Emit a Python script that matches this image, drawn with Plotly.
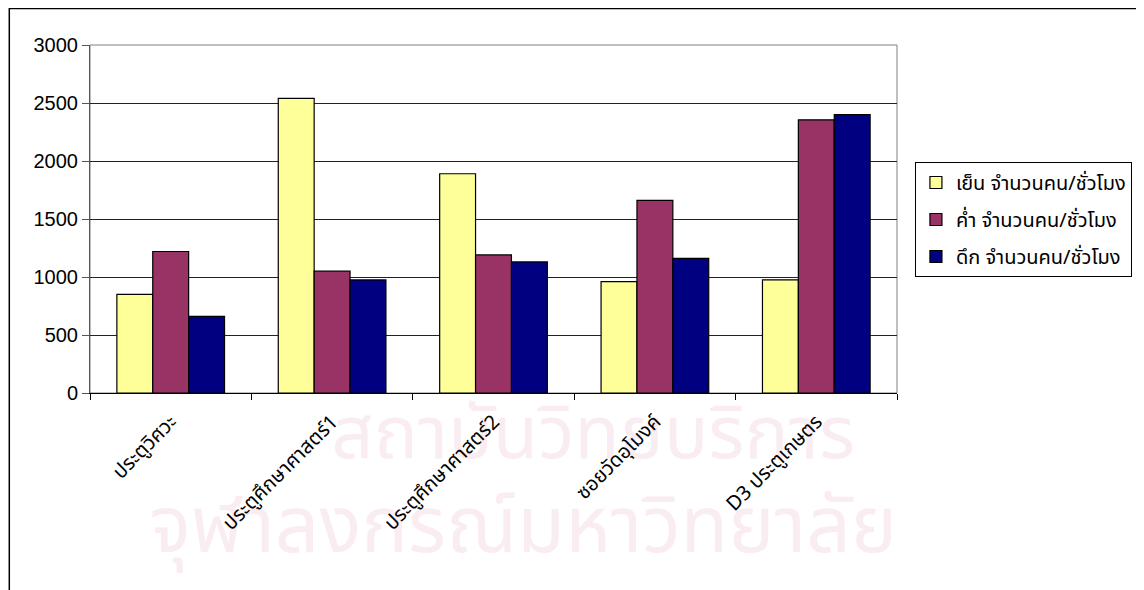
import plotly.graph_objects as go

categories = ["ประตูวิศวะ", "ประตูศึกษาศาสตร์1", "ประตูศึกษาศาสตร์2", "ซอยวัดอุโมงค์", "D3 ประตูเกษตร"]
series_names = ["เย็น จำนวนคน/ชั่วโมง", "ค่ำ จำนวนคน/ชั่วโมง", "ดึก จำนวนคน/ชั่วโมง"]
evening = [850, 2540, 1890, 960, 975]
night = [1220, 1050, 1190, 1660, 2355]
late_night = [660, 975, 1130, 1160, 2400]
colors = ["#FFFF99", "#993366", "#000080"]
y_ticks = [0, 500, 1000, 1500, 2000, 2500, 3000]
watermark_lines = ["สถาบันวิทยบริการ", "จุฬาลงกรณ์มหาวิทยาลัย"]

OFF = 8  # page body margin offset
W, H = 1144 - OFF, 590 - OFF
L, R, T, B = 90 - OFF, 900 - OFF, 45 - OFF, 393 - OFF
pw, ph = R - L, B - T

def px(x):
    return (x - OFF - L) / pw

def py(y):
    return (B - (y - OFF)) / ph

FONT = "Tahoma, 'Noto Sans Thai', 'Loma', 'Garuda', 'Noto Sans', sans-serif"
WM = "#FAEDF1"

fig = go.Figure()
for i, (name, vals, col) in enumerate(zip(series_names, [evening, night, late_night], colors)):
    fig.add_trace(go.Bar(
        x=categories, y=vals, name=name, legendgroup=f"g{i}",
        marker=dict(color=col, line=dict(color="#000000", width=1.2)),
    ))

shapes = [
    dict(type="rect", xref="paper", yref="paper", x0=px(320), x1=px(870), y0=py(480), y1=py(400),
         line=dict(width=0), fillcolor="rgba(0,0,0,0)", layer="below",
         label=dict(text=watermark_lines[0], font=dict(size=74, color=WM, family=FONT),
                    textposition="middle center")),
    dict(type="rect", xref="paper", yref="paper", x0=px(40), x1=px(1010), y0=py(570), y1=py(495),
         line=dict(width=0), fillcolor="rgba(0,0,0,0)", layer="below",
         label=dict(text=watermark_lines[1], font=dict(size=78, color=WM, family=FONT),
                    textposition="middle center")),
    dict(type="rect", xref="paper", yref="paper", x0=0, x1=1, y0=0, y1=1,
         line=dict(color="#808080", width=1), layer="below"),
    dict(type="rect", xref="paper", yref="paper",
         x0=px(9), x1=px(1200), y0=py(650), y1=py(8.5),
         line=dict(color="#000000", width=1.5)),
]

fig.update_layout(
    width=W, height=H,
    margin=dict(l=L, r=W - R, t=T, b=H - B, pad=0),
    paper_bgcolor="rgba(0,0,0,0)", plot_bgcolor="rgba(0,0,0,0)",
    barmode="group", bargap=0.333, bargroupgap=0,
    font=dict(family=FONT, color="#000000"),
    showlegend=True,
    legend=dict(
        x=px(918), y=py(162), xanchor="left", yanchor="top",
        bordercolor="#000000", borderwidth=1, bgcolor="white",
        tracegroupgap=8, traceorder="grouped",
        font=dict(size=20, family=FONT, color="#000000"),
    ),
    xaxis=dict(
        type="category", tickangle=-45, tickson="boundaries",
        ticks="outside", ticklen=6, tickcolor="#000000",
        showline=True, linecolor="#000000", linewidth=1,
        showgrid=False, zeroline=False, ticklabelstandoff=8,
        tickfont=dict(size=20, family=FONT, color="#000000"),
    ),
    yaxis=dict(
        range=[0, 3000], tickvals=y_ticks, ticktext=[str(v) for v in y_ticks],
        ticks="outside", ticklen=7, tickcolor="#555555",
        showline=True, linecolor="#555555", linewidth=1,
        showgrid=True, gridcolor="#222222", gridwidth=1,
        zeroline=False,
        tickfont=dict(size=20, family="Liberation Sans, Arial, sans-serif", color="#000000"),
    ),
    shapes=shapes,
)

fig.write_html("out.html")
